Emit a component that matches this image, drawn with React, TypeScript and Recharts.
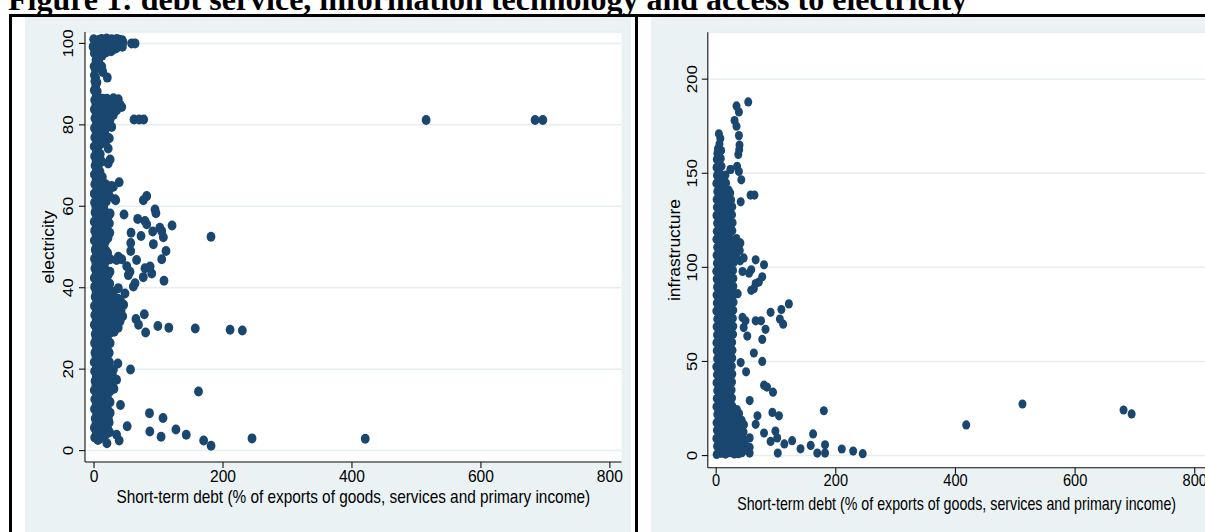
import React from 'react';
import { ScatterChart, Scatter, XAxis, YAxis, CartesianGrid } from 'recharts';

const NAVY = '#1A476F';
const BG = '#EAF2F3';
const FONT = '"Liberation Sans", Arial, Helvetica, sans-serif';

const FIG_TITLE = 'Figure 1: debt service, information technology and access to electricity';
const DEBT_TITLE = 'Short-term debt (% of exports of goods, services and primary income)';

const debtTicks = [0, 200, 400, 600, 800];
const elecTicks = [0, 20, 40, 60, 80, 100];
const infraTicks = [0, 50, 100, 150, 200];

// electricity vs short-term debt -- the packed column near zero debt
const elecCore = [
  [1, 3.2], [0.5, 5.6], [1.8, 7.9], [0.7, 10.2], [1.2, 12.6], [0.4, 14.8], [1.6, 17.1], [0.9, 19.5],
  [0.3, 21.7], [1.4, 24.0], [0.8, 26.4], [1.9, 28.6], [0.5, 30.9], [1.1, 33.3], [0.6, 35.5], [1.7, 37.8],
  [0.9, 40.2], [0.4, 42.4], [1.3, 44.7], [0.7, 47.1], [1.8, 49.3], [0.5, 51.6], [1.0, 54.0], [0.3, 56.2],
  [1.5, 58.5], [0.8, 60.9], [0.4, 63.1], [1.2, 65.4], [0.6, 67.8], [1.6, 70.0], [0.9, 72.3], [0.3, 74.7],
  [1.1, 76.9], [0.7, 79.2], [1.4, 81.6], [0.5, 83.8], [1.0, 86.1], [0.4, 88.5], [1.3, 90.7], [0.6, 92.2],
  [6.1, 2.6], [7.2, 4.9], [5.4, 7.1], [6.8, 9.5], [7.5, 11.8], [5.9, 14.1], [6.5, 16.4], [7.8, 18.7],
  [5.6, 21.0], [6.9, 23.3], [7.1, 25.7], [5.8, 28.0], [6.4, 30.3], [7.6, 32.6], [6.0, 34.9], [6.7, 37.2],
  [7.3, 39.6], [5.5, 41.9], [6.2, 44.2], [7.9, 46.5], [6.6, 48.8], [5.7, 51.1], [7.0, 53.5], [6.3, 55.8],
  [7.4, 58.1], [5.9, 60.4], [6.8, 62.7], [7.2, 65.0], [5.6, 67.4], [6.5, 69.7], [7.7, 72.0], [6.1, 74.3],
  [6.9, 76.6], [5.8, 78.9], [7.3, 81.2], [6.4, 83.6], [5.5, 85.9], [5.0, 88.2], [4.5, 90.4],
  [12.5, 3.5], [11.8, 5.8], [13.6, 8.2], [12.1, 10.5], [13.2, 12.9], [11.5, 15.2], [12.9, 17.6], [13.8, 19.9],
  [12.3, 22.3], [11.7, 24.6], [13.4, 27.0], [12.6, 29.3], [11.9, 31.7], [13.1, 34.0], [12.4, 36.4], [13.7, 38.7],
  [11.6, 41.1], [12.8, 43.4], [13.3, 45.8], [12.0, 48.1], [11.4, 50.5], [13.5, 52.8], [12.7, 55.2], [11.8, 57.5],
  [13.0, 59.9], [12.2, 62.2], [11.5, 64.6], [12.9, 67.2], [12.1, 71.0], [11.6, 75.4], [12.4, 77.8], [13.1, 80.1],
  [12.6, 82.5], [11.9, 84.8], [13.4, 86.4],
  [18.5, 4.0], [17.6, 6.4], [19.3, 8.8], [18.1, 11.2], [19.7, 13.5], [17.9, 15.9], [18.8, 18.3], [19.5, 20.6],
  [17.4, 23.0], [18.6, 25.4], [19.2, 27.7], [18.0, 30.1], [19.8, 32.5], [17.7, 34.8], [18.9, 37.2], [19.4, 39.6],
  [17.5, 41.9], [18.3, 44.3], [19.6, 46.7], [18.7, 49.0], [17.8, 51.4], [19.1, 53.8], [18.4, 56.1], [17.6, 58.5],
  [19.0, 61.2], [18.2, 63.8], [17.3, 65.5], [18.9, 77.0], [19.4, 79.4], [17.8, 81.8], [18.6, 84.2], [19.9, 86.4],
  [24.2, 4.5], [23.5, 6.9], [25.1, 9.3], [24.9, 11.9], [24.6, 14.5], [23.8, 16.9], [25.4, 19.3], [24.0, 21.7],
  [23.6, 24.0], [25.0, 26.4], [24.4, 28.8], [23.7, 31.2], [25.3, 33.6], [24.1, 35.9], [23.9, 38.3], [24.3, 41.0],
  [24.8, 43.9], [25.2, 47.0], [24.5, 53.5], [23.8, 55.8], [25.0, 58.2], [24.3, 62.4], [23.6, 64.8],
  [30.9, 15.2], [31.6, 17.6], [30.1, 19.9], [31.3, 29.2], [30.6, 31.6], [29.9, 34.0], [31.8, 36.4],
  [37.5, 30.2], [36.8, 32.6], [38.2, 35.0], [37.0, 37.3], [42.0, 34.5], [44.5, 33.0], [46.0, 35.8],
];

// second pass through the column, sitting between the rows above
const elecFill = [
  [3.6, 4.4], [3.1, 6.7], [4.0, 9.0], [3.4, 11.4], [3.8, 13.6], [2.9, 16.0], [3.5, 18.2], [4.1, 20.5],
  [3.2, 22.9], [3.7, 25.2], [3.0, 27.4], [3.9, 29.8], [3.3, 32.1], [3.6, 34.3], [4.2, 36.6], [3.1, 39.0],
  [3.8, 41.3], [3.4, 43.5], [2.9, 45.9], [3.7, 48.2], [4.0, 50.4], [3.2, 52.8], [3.5, 55.1], [3.9, 57.3],
  [3.0, 59.7], [3.6, 62.0], [4.1, 64.2], [3.3, 66.6], [3.8, 68.9], [3.1, 71.1], [3.6, 73.5], [4.0, 75.8],
  [3.2, 78.0], [3.7, 80.4], [3.4, 82.7], [2.9, 85.0], [3.5, 87.3], [2.8, 89.6], [2.6, 91.5],
  [9.6, 3.0], [9.1, 5.3], [10.0, 7.6], [9.4, 9.9], [9.8, 12.2], [9.0, 14.5], [9.7, 16.8], [10.2, 19.1],
  [9.3, 21.5], [9.9, 23.8], [9.1, 26.1], [10.1, 28.4], [9.5, 30.7], [9.8, 33.1], [9.2, 35.4], [10.0, 37.7],
  [9.4, 40.0], [9.7, 42.3], [9.0, 44.7], [10.2, 47.0], [9.5, 49.3], [9.3, 51.6], [9.9, 53.9], [9.6, 56.3],
  [9.1, 58.6], [10.0, 60.9], [9.4, 63.2], [9.8, 65.5], [9.2, 68.5], [9.6, 72.8], [9.0, 76.0], [9.7, 78.3],
  [9.3, 80.7], [9.9, 83.0], [9.5, 85.3],
  [15.6, 3.8], [15.1, 6.1], [16.0, 8.5], [15.4, 10.8], [15.8, 13.1], [15.2, 15.4], [16.1, 17.8], [15.5, 20.1],
  [15.0, 22.4], [15.9, 24.7], [15.3, 27.1], [15.7, 29.4], [15.1, 31.7], [16.2, 34.0], [15.6, 36.4], [15.2, 38.7],
  [15.8, 41.0], [15.4, 43.3], [16.0, 45.7], [15.3, 48.0], [15.7, 50.3], [15.1, 52.6], [15.9, 55.0], [15.5, 57.3],
  [15.2, 59.6], [15.8, 62.0], [15.4, 64.3], [15.9, 78.5], [15.3, 80.8], [15.7, 83.1], [16.2, 85.5],
  [21.4, 5.3], [21.9, 7.7], [21.2, 10.1], [22.0, 12.5], [21.5, 14.9], [21.8, 17.3], [21.1, 19.7], [21.7, 22.1],
  [21.3, 24.5], [22.1, 26.9], [21.6, 29.3], [21.2, 31.7], [21.9, 34.1], [21.4, 36.5], [21.8, 38.9], [21.5, 43.0],
  [21.1, 48.5], [21.7, 52.2], [21.3, 57.0], [27.5, 30.4], [27.9, 32.8], [27.2, 35.2], [27.8, 37.6],
  [34.0, 31.0], [34.4, 33.4], [33.8, 35.8], [40.5, 31.8], [41.0, 36.8], [28.0, 15.9], [28.5, 18.5],
];

// top band near 100 and the bulge around 80-86
const elecTop = [
  [-1.5, 99.2], [-0.5, 101.0], [2.5, 98.3], [4.0, 100.6], [6.5, 98.0], [8.0, 100.9], [9.5, 99.0], [12.0, 101.1],
  [13.0, 98.6], [15.5, 100.5], [17.5, 98.9], [19.5, 101.2], [21.0, 99.6], [23.5, 100.9], [25.5, 99.3], [27.5, 101.0],
  [29.5, 99.6], [31.5, 100.8], [33.5, 99.8], [35.5, 101.1], [37.5, 99.9], [39.5, 100.9], [41.5, 100.2], [43.5, 100.8],
  [45.0, 100.3], [58.4, 100.0], [63.6, 100.0], [5.0, 96.4], [9.0, 96.7], [3.0, 95.9], [12.5, 97.0],
  [0.5, 97.6], [3.5, 98.9], [7.0, 97.5], [10.5, 98.2], [14.5, 98.0], [18.5, 97.8], [22.5, 98.3], [26.5, 98.1],
  [30.5, 98.6], [34.5, 98.8], [1.8, 99.9], [11.0, 99.8], [20.5, 99.6], [28.0, 99.9], [36.5, 99.6], [44.0, 99.2],
  [0.2, 94.4], [12.0, 94.3], [13.5, 93.0], [20.6, 91.6], [7.5, 95.2], [2.0, 93.6],
  [24.8, 86.1], [30.0, 86.5], [37.7, 86.3], [40.3, 84.9], [43.0, 84.4], [35.0, 83.6], [30.0, 82.4], [33.0, 85.0],
  [26.0, 82.8], [24.8, 81.2], [27.4, 79.5], [17.0, 78.7], [23.7, 76.7], [19.7, 77.1], [22.0, 74.2], [25.0, 71.5],
  [22.0, 70.5], [19.6, 76.3], [28.0, 84.6], [21.5, 82.5], [22.5, 85.6], [36.0, 85.9],
  [62, 81.3], [70, 81.3], [77, 81.3], [515, 81.2], [684, 81.2], [696, 81.2],
];

// scattered observations away from the column
const elecSpread = [
  [39, 65.9], [27, 65.0], [24, 64.2], [32.6, 61.7], [30, 64.8], [33.6, 61.5], [76.5, 61.5], [81.7, 62.5],
  [94.6, 59.2], [96, 58.3], [46.5, 58.0], [67.7, 56.9], [79, 56.4], [81.7, 55.6], [121, 55.3], [102, 54.7],
  [105, 53.9], [107.5, 52.4], [57.4, 53.5], [72.9, 52.7], [91, 53.8], [56.9, 51.0], [92, 50.7], [56.9, 49.0],
  [111.6, 49.0], [105, 47.0], [37.7, 47.6], [43, 47.0], [35, 46.8], [66, 46.8], [50.7, 45.3], [55.8, 43.9],
  [53.2, 43.1], [79, 44.8], [87, 45.2], [89.5, 43.5], [76.4, 42.6], [108.5, 41.7], [37.7, 39.9], [61, 40.3],
  [63.6, 41.1], [30, 39.0], [48, 38.6], [181.4, 52.5],
  [78, 33.5], [65, 32.3], [69, 30.9], [80, 29.0], [99, 30.6], [116, 30.2], [157, 30.0], [211, 29.7],
  [230, 29.5], [37, 21.4], [56.6, 19.9], [35, 17.4], [162, 14.5], [41, 11.2], [86, 9.2], [107, 8.0],
  [51.4, 6.0], [86.5, 4.7], [104, 3.4], [127, 5.2], [143, 3.9], [170, 2.5], [181.5, 1.2], [245, 3.0],
  [420.6, 2.9], [20, 1.8], [35, 3.9], [39, 2.5], [22, 8.0],
];

// infrastructure vs short-term debt -- packed column
const infraCore = [
  [0.8, 0.6], [1.5, 4.9], [0.3, 9.1], [1.2, 13.4], [0.6, 17.5], [1.9, 21.8], [0.4, 26.0], [1.0, 30.3],
  [1.7, 34.5], [0.5, 38.7], [1.3, 43.0], [0.2, 47.2], [1.6, 51.4], [0.9, 55.7], [0.4, 59.9], [1.4, 64.1],
  [0.7, 68.4], [1.8, 72.6], [0.3, 76.8], [1.1, 81.1], [0.6, 85.3], [1.5, 89.5], [0.9, 93.8], [0.2, 98.0],
  [1.3, 102.2], [0.7, 106.5], [1.7, 110.7], [0.4, 114.9], [1.0, 119.2], [1.6, 123.4], [0.5, 127.6], [1.2, 131.9],
  [0.8, 136.1], [1.9, 140.3], [0.3, 144.6], [1.4, 148.8], [0.6, 153.0], [1.1, 157.3], [2.0, 160.5],
  [8.2, 1.2], [7.4, 5.5], [8.9, 9.7], [7.8, 14.0], [8.5, 18.2], [7.1, 22.4], [8.7, 26.7], [7.6, 30.9],
  [8.3, 35.1], [9.0, 39.4], [7.3, 43.6], [8.1, 47.8], [8.8, 52.1], [7.5, 56.3], [8.4, 60.5], [7.9, 64.8],
  [8.6, 69.0], [7.2, 73.2], [8.0, 77.5], [8.9, 81.7], [7.7, 85.9], [8.3, 90.2], [7.4, 94.4], [8.7, 98.6],
  [8.0, 102.9], [7.6, 107.1], [8.5, 111.3], [7.3, 115.6], [8.8, 119.8], [7.9, 124.0], [8.2, 128.3], [7.5, 132.5],
  [8.6, 136.7], [7.8, 141.0], [8.4, 145.2], [7.1, 149.4], [8.9, 153.7], [7.7, 157.9], [8.3, 162.1],
  [5.5, 165.5], [7.0, 168.5], [4.5, 171.0], [3.0, 163.0], [4.0, 159.0], [4.0, 153.0],
  [15.6, 0.8], [14.8, 5.1], [16.3, 9.3], [15.1, 13.6], [16.8, 17.8], [14.5, 22.0], [15.9, 26.3], [16.5, 30.5],
  [14.9, 34.7], [15.4, 39.0], [16.9, 43.2], [14.7, 47.4], [15.8, 51.7], [16.2, 55.9], [14.6, 60.1], [15.5, 64.4],
  [16.7, 68.6], [15.0, 72.8], [14.4, 77.1], [16.1, 81.3], [15.7, 85.5], [14.8, 89.8], [16.4, 94.0], [15.2, 98.2],
  [14.5, 102.5], [16.6, 106.7], [15.3, 110.9], [14.9, 115.2], [16.0, 119.4], [15.6, 123.6], [14.7, 127.9], [16.3, 132.1],
  [15.1, 136.3], [14.6, 140.6], [16.5, 144.8], [15.4, 149.0],
  [22.8, 1.5], [23.6, 5.8], [21.9, 10.0], [23.2, 14.3], [22.4, 18.5], [24.0, 22.7], [21.7, 27.0], [23.0, 31.2],
  [22.5, 35.4], [23.8, 39.7], [21.8, 43.9], [22.9, 48.1], [23.5, 52.4], [22.1, 56.6], [23.3, 60.8], [21.6, 65.1],
  [22.7, 69.3], [23.9, 73.5], [22.2, 77.8], [23.1, 82.0], [21.9, 86.2], [22.6, 90.5], [23.7, 94.7], [22.3, 98.9],
  [21.5, 103.2], [23.4, 107.4], [22.8, 111.6], [22.0, 115.9], [23.6, 120.1], [22.5, 124.3], [21.8, 128.6], [23.2, 132.8],
  [22.4, 137.1], [21.0, 141.0], [24.0, 152.0],
  [30.4, 0.9], [29.6, 5.2], [31.2, 9.4], [30.0, 13.7], [31.7, 17.9], [29.3, 22.1], [27.0, 26.4], [26.5, 30.6],
  [25.8, 34.8], [26.5, 39.1], [27.0, 43.3], [26.2, 47.5], [26.9, 51.8], [27.3, 56.0], [26.7, 60.2], [28.3, 64.5],
  [28.6, 68.7], [27.9, 72.9], [28.6, 77.2], [29.1, 81.4], [30.4, 85.6], [28.7, 89.9], [28.8, 94.1], [28.2, 98.3],
  [29.6, 102.6], [33.4, 106.8], [32.1, 111.0], [33.8, 115.3], [27.0, 119.5], [27.5, 123.7], [26.5, 128.0], [26.9, 132.2],
  [25.0, 135.8], [23.5, 139.5],
  [37.5, 1.0], [38.6, 5.3], [37.1, 9.6], [38.9, 13.8], [37.8, 18.1], [38.3, 22.4], [43.0, 1.5], [42.3, 5.8],
  [43.5, 10.1], [41.8, 14.4], [42.6, 18.7], [49.0, 3.0], [48.0, 7.5], [40.0, 103.5], [39.5, 109.0], [40.5, 113.0],
];

// second pass through the column, offset half a row
const infraFill = [
  [4.6, 2.8], [4.1, 7.0], [5.0, 11.3], [4.4, 15.5], [4.8, 19.7], [3.9, 24.0], [4.5, 28.2], [5.1, 32.4],
  [4.2, 36.7], [4.7, 40.9], [4.0, 45.1], [4.9, 49.4], [4.3, 53.6], [4.6, 57.8], [5.2, 62.1], [4.1, 66.3],
  [4.8, 70.5], [4.4, 74.8], [3.9, 79.0], [4.7, 83.2], [5.0, 87.5], [4.2, 91.7], [4.5, 95.9], [4.9, 100.2],
  [4.0, 104.4], [4.6, 108.6], [5.1, 112.9], [4.3, 117.1], [4.8, 121.3], [4.1, 125.6], [4.6, 129.8], [5.0, 134.0],
  [4.2, 138.3], [4.7, 142.5], [4.4, 146.7], [3.9, 151.0], [4.5, 155.2],
  [12.1, 3.1], [11.6, 7.3], [12.5, 11.6], [11.9, 15.8], [12.3, 20.0], [11.5, 24.3], [12.2, 28.5], [12.7, 32.7],
  [11.8, 37.0], [12.4, 41.2], [11.6, 45.4], [12.6, 49.7], [12.0, 53.9], [12.3, 58.1], [11.7, 62.4], [12.5, 66.6],
  [11.9, 70.8], [12.2, 75.1], [11.5, 79.3], [12.6, 83.5], [12.0, 87.8], [11.8, 92.0], [12.4, 96.2], [12.1, 100.5],
  [11.6, 104.7], [12.5, 108.9], [11.9, 113.2], [12.3, 117.4], [11.7, 121.6], [12.4, 125.9], [12.0, 130.1], [11.6, 134.3],
  [12.5, 138.6], [11.8, 142.8], [12.2, 147.0],
  [19.2, 3.3], [18.7, 7.6], [19.6, 11.8], [19.0, 16.0], [19.4, 20.3], [18.6, 24.5], [19.3, 28.7], [19.8, 33.0],
  [18.9, 37.2], [19.5, 41.4], [18.7, 45.7], [19.7, 49.9], [19.1, 54.1], [19.4, 58.4], [18.8, 62.6], [19.6, 66.8],
  [19.0, 71.1], [19.3, 75.3], [18.6, 79.5], [19.7, 83.8], [19.1, 88.0], [18.9, 92.2], [19.5, 96.5], [19.2, 100.7],
  [18.7, 104.9], [19.6, 109.2], [19.0, 113.4], [19.4, 117.6], [18.8, 121.9], [19.5, 126.1], [19.1, 130.3], [18.7, 134.6],
  [19.4, 138.8],
  [26.3, 3.0], [25.8, 7.3], [26.7, 11.5], [26.1, 15.8], [26.5, 20.0], [25.7, 24.2], [34.2, 3.2], [33.7, 7.5],
  [34.6, 11.7], [34.0, 16.0], [33.5, 20.2], [34.8, 24.4], [45.8, 12.5], [46.5, 16.4], [25.9, 103.9], [26.2, 109.6],
  [26.6, 113.8],
];

// the upward spike between 135 and 190
const infraUpper = [
  [53.6, 187.9], [34, 185.8], [38, 182.6], [30.7, 178.0], [34, 175.0], [38, 170.0], [39, 165.0], [37, 160.0],
  [38.5, 162.5], [35, 153.7], [38, 151.0], [24, 152.0], [42, 146.5], [57.5, 138.4], [64, 138.4], [41, 134.8],
];

const infraSpread = [
  [46, 105], [66, 104], [80, 101.4], [44, 97.8], [55, 96.9], [58.6, 98.7], [77, 95], [71.4, 92.2],
  [66, 91.4], [63, 88.7], [58.6, 87.8], [36, 86], [121.5, 80.6], [109, 77.6], [91, 76.1], [106.5, 72.5],
  [112, 69.8], [44, 73.4], [49, 71.6], [46, 68], [66, 71.6], [75, 71.6], [82.5, 67.1], [52, 63.5],
  [77, 61.7], [63, 54.5], [77, 50], [41, 49.4], [50, 44.5], [80, 37.4], [85, 36.4], [95, 33.7],
  [56, 29.2], [69, 21.1], [66, 16.6], [94, 22.9], [105, 21.1], [180, 23.8], [80, 12], [91, 7.5],
  [99, 13], [102, 9.4], [114, 6.2], [127, 7.9], [141, 3.6], [158, 5.4], [162, 11.5], [103, 1.3],
  [169, 1.3], [182, 1.3], [182, 5.7], [56, 9.4], [56, 4.4], [56, 1.3], [210, 3.5], [229, 2.4],
  [245, 1.0], [418, 16.3], [512, 27.4], [681, 24.2], [694.5, 22.1],
];

const toPts = (rows: number[][]) => rows.map(([x, y]) => ({ x, y }));
const elecData = toPts([...elecCore, ...elecFill, ...elecTop, ...elecSpread]);
const infraData = toPts([...infraCore, ...infraFill, ...infraUpper, ...infraSpread]);

const marker = (rx: number, ry: number) => (p: any) => (
  <ellipse cx={p.cx} cy={p.cy} rx={rx} ry={ry} fill={NAVY} />
);

const xTick = (k: number, dy: number) => (p: any) => (
  <text transform={`translate(${p.x},${p.y + dy}) scale(${k},1)`} textAnchor="middle" fontSize={17} fontFamily={FONT} fill="#000">
    {p.payload.value}
  </text>
);

const yTick = (shift: number) => (p: any) => (
  <text transform={`translate(${p.x + shift},${p.y}) scale(0.9,1) rotate(-90)`} textAnchor="middle" fontSize={17} fontFamily={FONT} fill="#000">
    {p.payload.value}
  </text>
);

// axis title squeezed horizontally like the exported figure
const xTitle = (k: number, dy: number) => (p: any) => {
  const vb = p.viewBox || { x: 0, y: 0, width: 0, height: 0 };
  return (
    <text transform={`translate(${vb.x + vb.width / 2},${vb.y + dy}) scale(${k},1)`} textAnchor="middle" fontSize={18} fontFamily={FONT} fill="#000">
      {DEBT_TITLE}
    </text>
  );
};

const yTitle = (label: string, fromAxis: number) => (p: any) => {
  const vb = p.viewBox || { x: 0, y: 0, width: 0, height: 0 };
  const bx = vb.x + vb.width - fromAxis;
  const cy = vb.y + vb.height / 2;
  return (
    <text transform={`translate(${bx},${cy}) scale(0.9,1) rotate(-90)`} textAnchor="middle" fontSize={17.5} fontFamily={FONT} fill="#000">
      {label}
    </text>
  );
};

const axisStroke = { stroke: '#111', strokeWidth: 1.1 };

export default function App() {
  return (
    <div style={{ position: 'absolute', left: 0, top: 0, width: 1205, height: 532, overflow: 'hidden', background: '#fff' }}>
      <div style={{ position: 'absolute', left: 8, top: -17, fontFamily: '"Liberation Serif", "Times New Roman", serif', fontWeight: 'bold', fontSize: 32, lineHeight: '32px', whiteSpace: 'nowrap', color: '#000' }}>
        {FIG_TITLE}
      </div>

      {/* table rules */}
      <div style={{ position: 'absolute', left: 9, top: 14, width: 1196, height: 2.5, background: '#000' }} />
      <div style={{ position: 'absolute', left: 9, top: 14, width: 3, height: 518, background: '#000' }} />
      <div style={{ position: 'absolute', left: 635, top: 14, width: 3, height: 518, background: '#000' }} />

      {/* left panel: electricity */}
      <div style={{ position: 'absolute', left: 24.5, top: 17, width: 606.5, height: 515, background: BG }}>
        <ScatterChart width={606.5} height={515} margin={{ top: 15, right: 10, bottom: 0, left: 0 }}>
          <CartesianGrid vertical={false} stroke="#E6EEF0" strokeWidth={1.5} fill="#fff" />
          <XAxis type="number" dataKey="x" domain={[-14, 818]} ticks={debtTicks} allowDataOverflow interval={0}
            height={70} tickSize={6} tickMargin={2} axisLine={axisStroke} tickLine={axisStroke}
            tick={xTick(0.92, 12)} label={{ content: xTitle(0.854, 41) }} />
          <YAxis type="number" dataKey="y" domain={[-2.8, 102.8]} ticks={elecTicks} allowDataOverflow interval={0}
            width={60} tickSize={6} tickMargin={2} axisLine={axisStroke} tickLine={axisStroke}
            tick={yTick(-4)} label={{ content: yTitle('electricity', 31.2) }} />
          <Scatter data={elecData} isAnimationActive={false} shape={marker(4.4, 5)} />
        </ScatterChart>
      </div>

      {/* right panel: infrastructure */}
      <div style={{ position: 'absolute', left: 650.5, top: 17, width: 554.5, height: 515, background: BG }}>
        <ScatterChart width={554.5} height={515} margin={{ top: 15.3, right: 0, bottom: 0, left: 0 }}>
          <CartesianGrid vertical={false} stroke="#E6EEF0" strokeWidth={1.5} fill="#fff" />
          <XAxis type="number" dataKey="x" domain={[-14, 818]} ticks={debtTicks} allowDataOverflow interval={0}
            height={64.2} tickSize={6} tickMargin={2} axisLine={axisStroke} tickLine={axisStroke}
            tick={xTick(0.86, 10)} label={{ content: xTitle(0.791, 42) }} />
          <YAxis type="number" dataKey="y" domain={[-6.5, 224.9]} ticks={infraTicks} allowDataOverflow interval={0}
            width={56.8} tickSize={6} tickMargin={2} axisLine={axisStroke} tickLine={axisStroke}
            tick={yTick(-2.6)} label={{ content: yTitle('infrastructure', 28.3) }} />
          <Scatter data={infraData} isAnimationActive={false} shape={marker(4, 4.6)} />
        </ScatterChart>
      </div>
    </div>
  );
}
